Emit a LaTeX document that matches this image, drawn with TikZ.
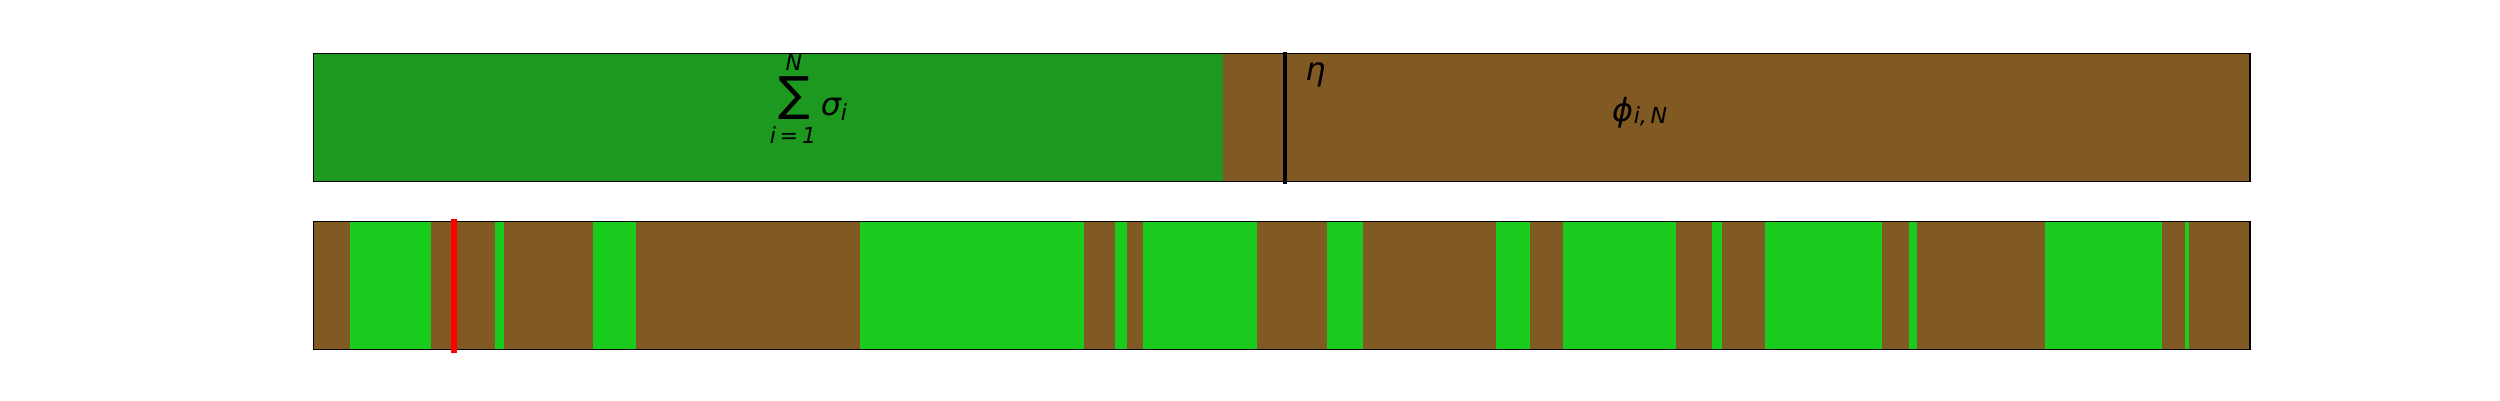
\documentclass[tikz,border=0pt]{standalone}
\usepackage{fontspec}
\newfontfamily\dvs{DejaVu Sans}
\definecolor{dgreen}{RGB}{28,153,30}
\definecolor{lgreen}{RGB}{25,204,30}
\definecolor{soil}{RGB}{128,90,34}

\begin{document}
\begin{tikzpicture}[x=0.01in,y=-0.01in,
    lab/.style={inner sep=0pt,font=\dvs\itshape\fontsize{23}{23}\selectfont},
    sub/.style={inner sep=0pt,font=\dvs\itshape\fontsize{16}{16}\selectfont}]
    \useasboundingbox (0,0) rectangle (2500,400);
    % upper bar
    \fill[soil] (313.3,53.3) rectangle (2250,181.7);
    \fill[dgreen] (313.3,53.3) rectangle (1223.3,181.7);
    \draw[line width=1pt] (313.3,53.3) rectangle (2250,181.7);
    \draw[line width=3.5pt] (1285,51.7)--(1285,184.3);
    % lower bar
    \fill[soil] (313.3,221.7) rectangle (2250,349.3);
    \fill[lgreen] (350,221.7) rectangle (431,349.3);
    \fill[lgreen] (495,221.7) rectangle (504,349.3);
    \fill[lgreen] (593,221.7) rectangle (636,349.3);
    \fill[lgreen] (860,221.7) rectangle (1084,349.3);
    \fill[lgreen] (1115,221.7) rectangle (1127,349.3);
    \fill[lgreen] (1143,221.7) rectangle (1257,349.3);
    \fill[lgreen] (1327,221.7) rectangle (1363,349.3);
    \fill[lgreen] (1496,221.7) rectangle (1530,349.3);
    \fill[lgreen] (1563,221.7) rectangle (1676,349.3);
    \fill[lgreen] (1712,221.7) rectangle (1722,349.3);
    \fill[lgreen] (1765,221.7) rectangle (1882,349.3);
    \fill[lgreen] (1909,221.7) rectangle (1917,349.3);
    %\fill[lgreen] (1917,221.7) rectangle (2045,349.3);
    \fill[lgreen] (2045,221.7) rectangle (2162,349.3);
    \fill[lgreen] (2185,221.7) rectangle (2189,349.3);
    \draw[line width=1pt] (313.3,221.7) rectangle (2250,349.3);
    \draw[red,line width=4.3pt] (454,219.3)--(454,352.7);
    % labels
    \node[sub] (aa) at (794,62.5) {N};
    \node[inner sep=0pt,font=\dvs\fontsize{34}{34}\selectfont] (ab) at (794.5,97.6) {∑};
    \node[sub] (ac) at (793,135) {i\,=\,1};
    \node[lab] (ad) at (831,107.5) {σ};
    \node[sub] (ae) at (844,112) {i};
    \node[lab] (ba) at (1315.5,75) {η};
    \node[lab] (ca) at (1622.5,112.5) {ϕ};
    \node[sub] (cb) at (1650.5,116.5) {i,\,N};
\end{tikzpicture}
\end{document}
